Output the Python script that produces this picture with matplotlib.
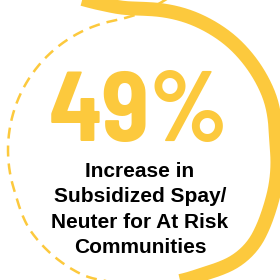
import numpy as np
import matplotlib.pyplot as plt
from matplotlib import font_manager

# chart content
stat_value = 49
stat_suffix = '%'
label_lines = ['Increase in', 'Subsidized Spay/', 'Neuter for At Risk', 'Communities']

yellow = '#FCC93D'

names = set(f.name for f in font_manager.fontManager.ttflist)
big_font = 'Barlow Semi Condensed' if 'Barlow Semi Condensed' in names else 'Liberation Sans'

fig = plt.figure(figsize=(2.8, 2.8), dpi=100)
ax = fig.add_axes([0, 0, 1, 1])
ax.set_xlim(0, 280)
ax.set_ylim(280, 0)
ax.axis('off')


def swirl(knot_t, knot_r, t0, t1, cx=140, cy=150):
	t = np.linspace(t0, t1, 600)
	r = np.interp(t, knot_t, knot_r)
	k = 10
	rp = np.pad(r, k, mode='edge')
	r = np.convolve(rp, np.ones(2*k+1)/(2*k+1), mode='same')[k:-k]
	a = np.radians(t)
	return cx + r*np.cos(a), cy - r*np.sin(a)


# dashed left half, leaves the ring at top right
xd, yd = swirl([65, 80, 88, 95, 100, 200, 215, 236, 247, 256, 270],
			   [200, 152, 138, 133, 132, 132, 136, 137, 137.5, 135, 135], 62, 266)
ax.plot(xd, yd, color=yellow, lw=1.8, linestyle=(0, (4.4, 2.8)), zorder=1)

# thick right half, leaves the ring at top left
xb, yb = swirl([-120, -105, -95, -78, -63, -49, -40, -24, 4, 21, 50, 70, 90, 98, 108, 116, 125, 132],
			   [165, 146, 139, 136, 139, 147, 148, 142, 136, 140, 142, 142, 141, 143, 155, 173, 200, 225], -120, 132)
ax.plot(xb, yb, color=yellow, lw=10, solid_capstyle='butt', zorder=2)

ax.text(139, 141, f'{stat_value}{stat_suffix}', ha='center', va='baseline',
		fontsize=71, fontweight='bold', fontstretch='semi-condensed', family=big_font,
		color=yellow, zorder=3)

for i, line in enumerate(label_lines):
	ax.text(140, 177 + i*25.3, line, ha='center', va='baseline', fontsize=15,
			fontweight='bold', family='Liberation Sans', color='black', zorder=3)

fig.savefig('out.png', dpi=100)
